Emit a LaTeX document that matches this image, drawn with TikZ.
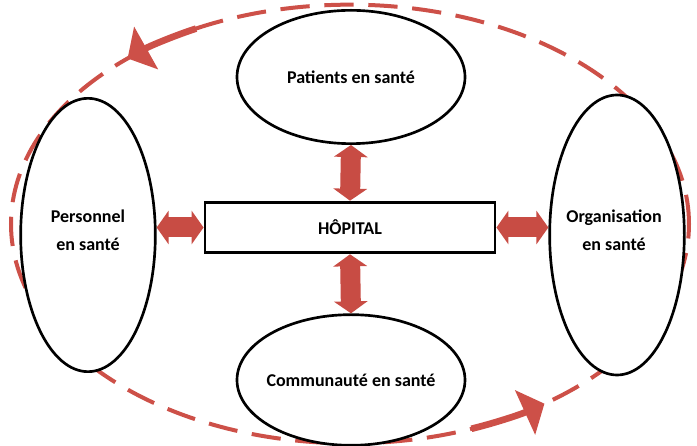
\documentclass[tikz,border=0pt]{standalone}
\usepackage{fontspec}
\setmainfont{Carlito}
\usetikzlibrary{shapes.geometric,arrows.meta}
\definecolor{cyclered}{RGB}{205,80,72}
\definecolor{arrowred}{RGB}{200,76,68}
\tikzset{
  circlenode/.style={draw=black, line width=2pt, fill=white, ellipse, inner sep=0pt},
  circletext/.style={align=center, font=\fontsize{13.5}{21}\selectfont\bfseries, inner sep=0pt},
  hospbox/.style={draw=black, line width=2.2pt, fill=white, minimum width=217.5pt,
     minimum height=38pt, font=\fontsize{13.5}{15}\selectfont\bfseries},
  bigarrow/.style={draw=arrowred, line width=15pt,
     {Triangle[length=9pt,width=25pt]}-{Triangle[length=9pt,width=25pt]}},
  cycleline/.style={draw=cyclered, line width=3pt, dash pattern=on 22pt off 11pt},
  cyclearrow/.style={draw=cyclered, fill=cyclered, line width=5pt,
     -{Triangle[length=16pt,width=36pt]}},
}
\begin{document}
\begin{tikzpicture}[x=0.75pt,y=0.75pt]
\useasboundingbox (0,0) rectangle (697,446);
% dashed cycle
\coordinate (cyc) at (350,222);
\draw[cycleline] (cyc) ellipse[x radius=254.25pt, y radius=164.5pt];
\draw[cyclearrow] (cyc) ++(117:254.25pt and 164.5pt)
   arc[start angle=117, end angle=131, x radius=254.25pt, y radius=164.5pt];
\draw[cyclearrow] (cyc) ++(-69:254.25pt and 164.5pt)
   arc[start angle=-69, end angle=-55, x radius=254.25pt, y radius=164.5pt];
% nodes
\node[circlenode, minimum width=171pt, minimum height=100pt] (top) at (351,369) {};
\node[circlenode, minimum width=171pt, minimum height=98pt] (bottom) at (351,66) {};
\node[circlenode, minimum width=101pt, minimum height=205pt] (left) at (88,211) {};
\node[circlenode, minimum width=101pt, minimum height=210pt] (right) at (617,211) {};
\node[circletext] (toptext) at (351,369) {Patients en santé};
\node[circletext] (bottomtext) at (351,66) {Communauté en santé};
\node[circletext] (lefttext) at (88,216) {Personnel\\en santé};
\node[circletext] (righttext) at (614,216) {Organisation\\en santé};
\node[hospbox] (hosp) at (350,218.5) {HÔPITAL};
% arrows
\draw[bigarrow] (top.south) -- (hosp.north);
\draw[bigarrow] (hosp.south) -- (bottom.north);
\draw[bigarrow] (hosp.west -| left.east) -- (hosp.west);
\draw[bigarrow] (hosp.east) -- (hosp.east -| right.west);
\end{tikzpicture}
\end{document}
